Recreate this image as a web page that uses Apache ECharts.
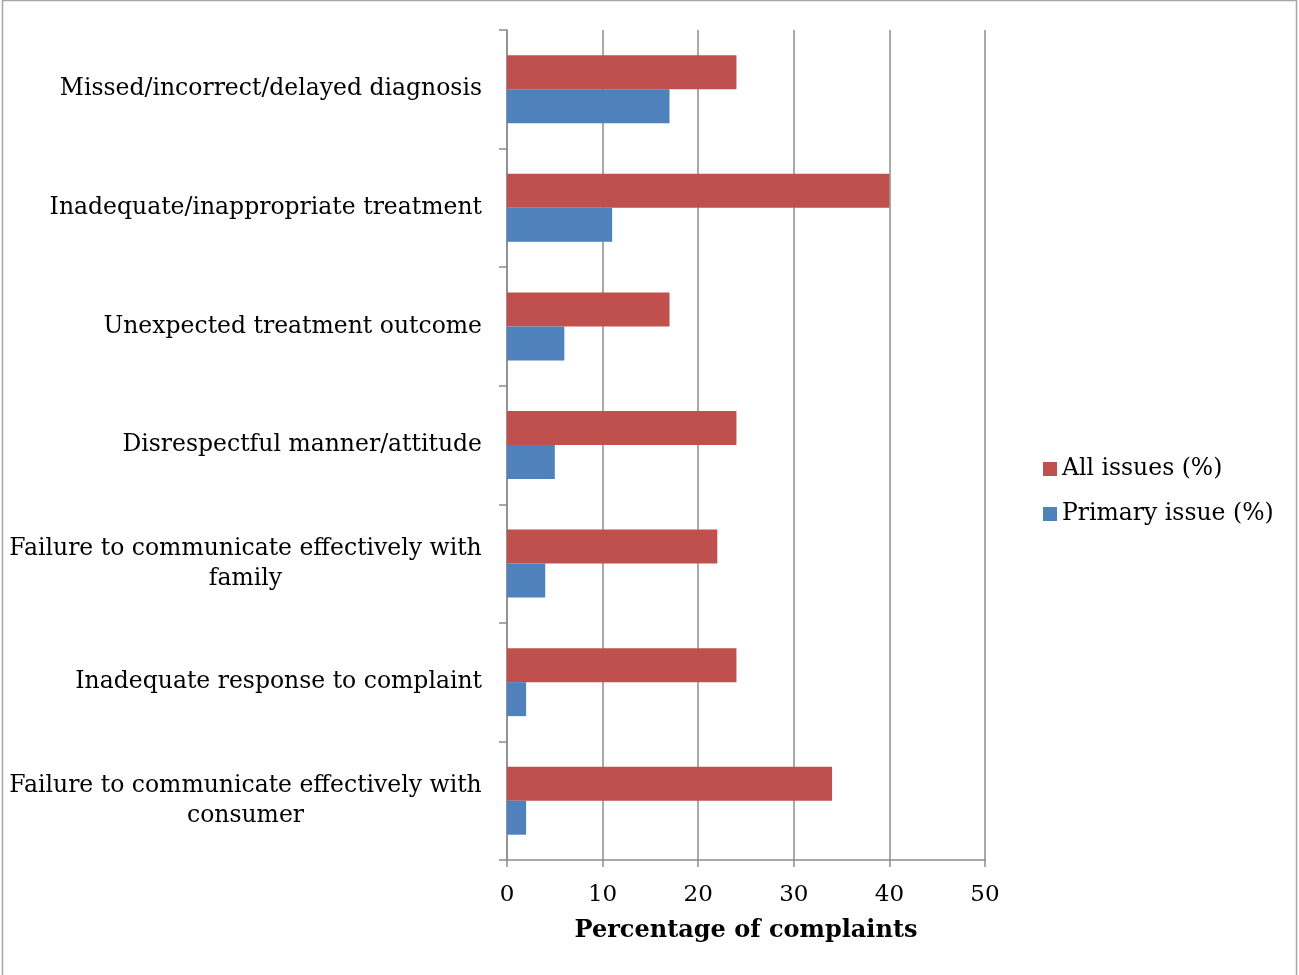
<!DOCTYPE html>
<html>
<head>
<meta charset="utf-8">
<script src="https://cdn.jsdelivr.net/npm/echarts@6/dist/echarts.min.js"></script>
<style>
  html, body { margin: 0; padding: 0; background: #fff; }
  #main { width: 1299px; height: 975px; }
</style>
</head>
<body>
<div id="main"></div>
<script>
var categories = [
  'Missed/incorrect/delayed diagnosis',
  'Inadequate/inappropriate treatment',
  'Unexpected treatment outcome',
  'Disrespectful manner/attitude',
  'Failure to communicate effectively with\nfamily',
  'Inadequate response to complaint',
  'Failure to communicate effectively with\nconsumer'
];
var allIssues = [24, 40, 17, 24, 22, 24, 34];
var primaryIssue = [17, 11, 6, 5, 4, 2, 2];
var seriesNames = ['All issues (%)', 'Primary issue (%)'];

var FONT = '"DejaVu Serif", serif';
var FONT_SIZE = 23.5;

// width of the long first line, so the second line can be centred under it
var ctx = document.createElement('canvas').getContext('2d');
ctx.font = FONT_SIZE + 'px ' + FONT;
var longLine = Math.ceil(ctx.measureText('Failure to communicate effectively with').width);

var myChart = echarts.init(document.getElementById('main'));
myChart.setOption({
  animation: false,
  textStyle: { fontFamily: FONT, color: '#000' },
  graphic: [{
    type: 'rect',
    silent: true,
    shape: { x: 2.5, y: 0.5, width: 1294, height: 990 },
    style: { fill: 'none', stroke: '#a6a6a6', lineWidth: 1.5 }
  }],
  legend: {
    orient: 'vertical',
    left: 1038,
    top: 452,
    itemWidth: 14,
    itemHeight: 14,
    itemGap: 21,
    icon: 'rect',
    textStyle: { fontFamily: FONT, fontSize: FONT_SIZE, color: '#000' },
    data: seriesNames
  },
  grid: { left: 507, right: 314, top: 30, bottom: 115 },
  xAxis: {
    type: 'value',
    min: 0,
    max: 50,
    interval: 10,
    name: 'Percentage of complaints',
    nameLocation: 'middle',
    nameGap: 59,
    nameTextStyle: { fontFamily: FONT, fontSize: 24, fontWeight: 'bold', color: '#000' },
    axisLine: { show: true, lineStyle: { color: '#8c8c8c', width: 1.5 } },
    axisTick: { show: true, length: 7, lineStyle: { color: '#8c8c8c', width: 1.5 } },
    axisLabel: { fontFamily: FONT, fontSize: 23, color: '#000', margin: 24 },
    splitLine: { show: true, lineStyle: { color: '#8c8c8c', width: 1.5 } }
  },
  yAxis: {
    type: 'category',
    inverse: true,
    data: categories,
    axisLine: { show: true, lineStyle: { color: '#8c8c8c', width: 1.5 } },
    axisTick: { show: true, length: 8, lineStyle: { color: '#8c8c8c', width: 1.5 } },
    axisLabel: {
      fontFamily: FONT,
      fontSize: FONT_SIZE,
      color: '#000',
      margin: 25,
      lineHeight: 30,
      formatter: function (v) {
        if (v.indexOf('\n') < 0) return v;
        return v.split('\n').map(function (s) { return '{c|' + s + '}'; }).join('\n');
      },
      rich: {
        c: { width: longLine, align: 'center', fontFamily: FONT, fontSize: FONT_SIZE, lineHeight: 30, color: '#000' }
      }
    },
    splitLine: { show: false }
  },
  series: [
    {
      name: seriesNames[0],
      type: 'bar',
      data: allIssues,
      barWidth: 34,
      barGap: '0%',
      itemStyle: { color: '#C0504D' }
    },
    {
      name: seriesNames[1],
      type: 'bar',
      data: primaryIssue,
      barWidth: 34,
      barGap: '0%',
      itemStyle: { color: '#4F81BD' }
    }
  ]
});
</script>
</body>
</html>
